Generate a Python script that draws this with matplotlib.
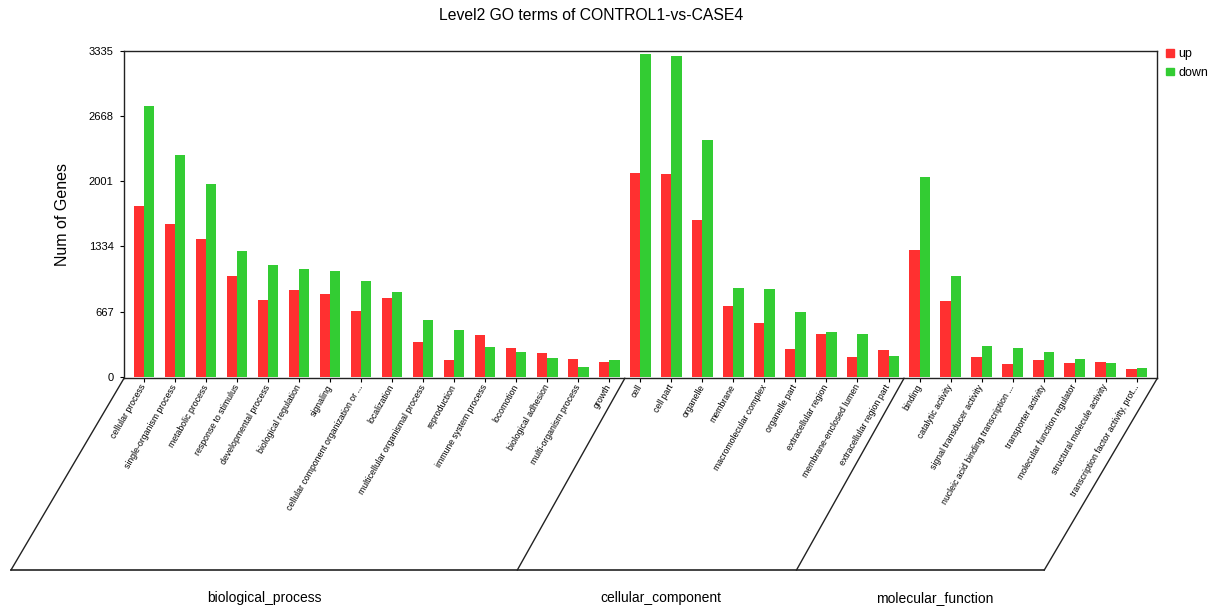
import numpy as np
import matplotlib.pyplot as plt
from matplotlib.lines import Line2D
from matplotlib.patches import Patch

plt.rcParams['font.family'] = ['Liberation Sans', 'DejaVu Sans']

# GO level-2 terms, grouped by ontology
bp_terms = ['cellular process', 'single-organism process', 'metabolic process',
            'response to stimulus', 'developmental process', 'biological regulation',
            'signaling', 'cellular component organization or ...', 'localization',
            'multicellular organismal process', 'reproduction', 'immune system process',
            'locomotion', 'biological adhesion', 'multi-organism process', 'growth']
cc_terms = ['cell', 'cell part', 'organelle', 'membrane', 'macromolecular complex',
            'organelle part', 'extracellular region', 'membrane-enclosed lumen',
            'extracellular region part']
mf_terms = ['binding', 'catalytic activity', 'signal transducer activity',
            'nucleic acid binding transcription ...', 'transporter activity',
            'molecular function regulator', 'structural molecule activity',
            'transcription factor activity, prot...']
groups = ['biological_process', 'cellular_component', 'molecular_function']

bp_up = [1748, 1558, 1408, 1033, 784, 886, 846, 675, 801, 358, 168, 423, 293, 239, 181, 150]
bp_down = [2765, 2267, 1970, 1288, 1142, 1104, 1084, 982, 863, 580, 477, 300, 249, 188, 96, 171]
cc_up = [2080, 2069, 1599, 720, 546, 280, 433, 205, 276]
cc_down = [3303, 3279, 2417, 904, 897, 658, 457, 440, 208]
mf_up = [1292, 774, 205, 127, 171, 143, 150, 79]
mf_down = [2045, 1030, 314, 290, 249, 184, 143, 92]

y_ticks = [0, 667, 1334, 2001, 2668, 3335]

terms = bp_terms + cc_terms + mf_terms
up = np.array(bp_up + cc_up + mf_up)
down = np.array(bp_down + cc_down + mf_down)
sizes = [len(bp_terms), len(cc_terms), len(mf_terms)]

W, H = 1219, 610
fig = plt.figure(figsize=(W / 100, H / 100), dpi=100)
ax = fig.add_axes([124 / W, 1 - 378.3 / H, (1157.3 - 124) / W, (378.3 - 50.7) / H])

x = np.arange(len(terms))
bw = 0.33
ax.bar(x - bw / 2, up, bw, color='#ff3030', label='up')
ax.bar(x + bw / 2, down, bw, color='#33cc33', label='down')

ax.set_xlim(-0.645, len(terms) - 1 + 0.665)
ax.set_ylim(-16, 3335)
ax.set_yticks(y_ticks)
ax.set_xticks(x)
ax.set_xticklabels(terms, rotation=60, ha='right', va='center',
                   rotation_mode='anchor', fontsize=6.3)
ax.tick_params(axis='y', labelsize=8, length=3, pad=4.5)
ax.tick_params(axis='x', length=3, pad=2)
for s in ax.spines.values():
    s.set_linewidth(1.0)
    s.set_color('#222222')

ax.set_ylabel('Num of Genes', fontsize=11.5)
ax.yaxis.set_label_coords(-0.052, 0.5)

fig.text(591 / W, 1 - 16 / H, 'Level2 GO terms of CONTROL1-vs-CASE4',
         ha='center', va='center', fontsize=11.3)

fig.legend(handles=[Patch(color='#ff3030'), Patch(color='#33cc33')],
           labels=['up', 'down'], loc='upper left',
           bbox_to_anchor=(1166 / W, 1 - 48 / H), frameon=False, fontsize=9,
           handlelength=0.6, handleheight=0.6, handletextpad=0.4,
           labelspacing=0.55, borderpad=0, borderaxespad=0)

# slanted brackets under the x axis separating the three ontologies
fig.canvas.draw()
to_fig = fig.transFigure.inverted()
y_axis0 = ax.get_ylim()[0]
y_bot = 40 / H
edges = [(-0.645, -113)]
pos = 0
for n in sizes[:-1]:
    pos += n
    edges.append((pos - 0.5, -107.5))
edges.append((ax.get_xlim()[1], -113))

bottoms = []
for xe, dx in edges:
    px, py = ax.transData.transform((xe, y_axis0))
    fx0, fy0 = to_fig.transform((px, py))
    fx1 = fx0 + dx / W
    bottoms.append(fx1)
    fig.add_artist(Line2D([fx0, fx1], [fy0, y_bot], color='#222222', lw=1.0))
fig.add_artist(Line2D([bottoms[0], bottoms[-1]], [y_bot, y_bot], color='#222222', lw=1.2))

label_x = [264, 661, 935]
for name, lx in zip(groups, label_x):
    fig.text(lx / W, 1 - 598 / H, name, ha='center', va='center', fontsize=10)

fig.savefig('out.png', dpi=100)
